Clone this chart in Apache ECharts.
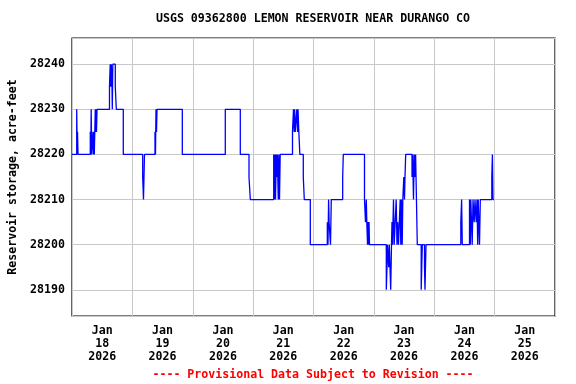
<!DOCTYPE html>
<html>
<head>
<meta charset="utf-8">
<script src="https://cdn.jsdelivr.net/npm/echarts@6/dist/echarts.min.js"></script>
<style>html,body{margin:0;padding:0;background:#fff}#c{width:576px;height:384px}</style>
</head>
<body>
<div id="c"></div>
<script>
// hours since 2026-01-18 00:00 at which the storage changed to the matching value
const hours = [0, 1.87, 2.07, 2.19, 2.39, 7.27, 7.47, 7.63, 7.83, 8.35, 8.55, 8.75, 8.86, 9.26, 9.42, 9.62, 9.74, 9.94,
  14.9, 15.19, 15.42, 15.62, 15.9, 16.02, 16.22, 17.21, 17.61, 20.39,
  28.1, 28.42, 28.82,
  32.99, 33.19, 33.39, 33.59, 33.79,
  43.85, 60.94, 66.9, 70.36, 70.88,
  80.18, 80.38, 80.7, 80.9, 81.21, 81.41, 81.61, 82.0, 82.2, 82.48, 82.76,
  87.65, 88.05, 88.34, 88.5, 88.73, 89.37, 89.65, 89.85, 90.17, 90.57,
  91.94, 92.34, 94.73,
  101.49, 101.76, 102.0, 102.2, 102.76, 103.07,
  107.6, 107.84,
  116.27, 116.67, 116.99, 117.19, 117.47, 117.67, 117.87, 118.07, 118.26,
  124.94, 125.22, 125.42, 125.9, 126.13, 126.69, 127.01,
  127.2, 127.4, 127.6, 127.8, 128.08, 128.87, 129.19, 129.47, 129.79, 130.46, 130.7, 130.94, 131.26, 131.5, 131.9, 132.17, 132.37, 132.65,
  135.16, 135.4, 135.75, 136.03, 136.35, 136.59, 137.26,
  138.81, 139.25, 140.12, 140.32, 140.72,
  154.56, 154.88, 155.15,
  158.01, 158.33, 158.53, 158.81, 159.09, 159.41, 159.88, 160.2, 160.68, 161.0, 161.27, 161.47, 161.99, 162.31,
  166.88, 167.12, 167.36, 167.75];
const storage = [28220, 28230, 28220, 28225, 28220, 28225, 28220, 28230, 28220, 28225, 28220, 28225, 28220, 28230, 28225, 28230, 28225, 28230,
  28235, 28240, 28235, 28240, 28235, 28230, 28240, 28235, 28230, 28220,
  28215, 28210, 28220,
  28225, 28220, 28230, 28225, 28230,
  28220, 28230, 28220, 28215, 28210,
  28220, 28210, 28220, 28210, 28220, 28215, 28220, 28210, 28220, 28210, 28220,
  28225, 28230, 28225, 28230, 28225, 28230, 28225, 28230, 28225, 28220,
  28215, 28210, 28200,
  28205, 28200, 28210, 28205, 28200, 28210,
  28215, 28220,
  28210, 28205, 28210, 28205, 28200, 28205, 28200, 28205, 28200,
  28190, 28195, 28200, 28195, 28200, 28190, 28200,
  28205, 28200, 28205, 28210, 28200, 28210, 28200, 28205, 28200, 28210, 28200, 28210, 28200, 28210, 28215, 28210, 28215, 28220,
  28215, 28220, 28210, 28220, 28215, 28220, 28200,
  28190, 28200, 28195, 28190, 28200,
  28205, 28210, 28200,
  28210, 28200, 28210, 28205, 28200, 28210, 28205, 28210, 28205, 28210, 28200, 28210, 28200, 28210,
  28215, 28220, 28210, 28210];
const dayLabels = ['Jan\n18\n2026', 'Jan\n19\n2026', 'Jan\n20\n2026', 'Jan\n21\n2026', 'Jan\n22\n2026', 'Jan\n23\n2026', 'Jan\n24\n2026', 'Jan\n25\n2026'];
const titleText = 'USGS 09362800 LEMON RESERVOIR NEAR DURANGO CO';
const yName = 'Reservoir storage, acre-feet';
const footer = '---- Provisional Data Subject to Revision ----';

const FF = 'DejaVu Sans Mono';
const chart = echarts.init(document.getElementById('c'), null, {renderer: 'canvas'});
chart.setOption({
  animation: false,
  backgroundColor: '#fff',
  grid: {left: 72, top: 38, right: 21, bottom: 68, show: true, borderColor: '#000', borderWidth: 1.2,
    containLabel: false, outerBoundsMode: 'none'},
  xAxis: [
    {type: 'value', min: 0, max: 192, show: false, position: 'bottom'},
    {type: 'category', data: dayLabels, boundaryGap: true, position: 'bottom',
      axisLine: {show: false}, axisTick: {show: false},
      splitLine: {show: true, interval: 0, lineStyle: {color: '#c8c8c8', width: 1}},
      axisLabel: {interval: 0, margin: 8, fontFamily: FF, fontWeight: 'bold', fontSize: 11.6, lineHeight: 13, color: '#000'}}
  ],
  yAxis: {type: 'value', min: 28184.2, max: 28245.8, splitNumber: 6, minInterval: 10, maxInterval: 10,
    name: yName, nameLocation: 'middle', nameGap: 53,
    nameTextStyle: {fontFamily: FF, fontWeight: 'bold', fontSize: 11.6, color: '#000'},
    axisLine: {show: false}, axisTick: {show: false},
    splitLine: {show: true, lineStyle: {color: '#c8c8c8', width: 1}},
    axisLabel: {showMinLabel: false, showMaxLabel: false, margin: 7, padding: [3, 0, 0, 0], formatter: v => String(Math.round(v)),
      fontFamily: FF, fontWeight: 'bold', fontSize: 11.6, color: '#000'}},
  series: [{
    type: 'line', xAxisIndex: 0, step: 'end', showSymbol: false, symbol: 'none',
    lineStyle: {color: '#0000ff', width: 1.3}, silent: true,
    data: hours.map((h, i) => [h, storage[i]])
  }],
  graphic: [
    {type: 'text', x: 313, y: 19, silent: true, style: {text: titleText, align: 'center', verticalAlign: 'middle', fontFamily: FF, fontWeight: 'bold', fontSize: 11.6, fill: '#000'}},
    {type: 'text', x: 313, y: 375, silent: true, style: {text: footer, align: 'center', verticalAlign: 'middle', fontFamily: FF, fontWeight: 'bold', fontSize: 11.6, fill: '#ff0000'}}
  ]
});
</script>
</body>
</html>
